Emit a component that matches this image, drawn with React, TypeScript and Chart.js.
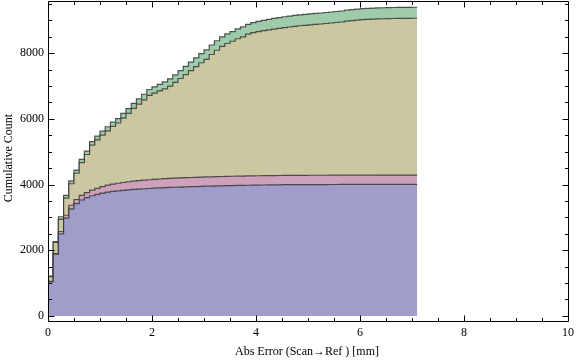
import React, { useEffect, useRef } from "react";
import { Chart, registerables } from "chart.js";

Chart.register(...registerables);

// Bin width of the histogram (Abs Error, mm)
const binWidth = 0.1;

// Cumulative counts per series, one value per bin (bins start at 0, 0.1, ..., 7.0)
const seriesBlue = [
  1040, 1880, 2500, 2980, 3260, 3420, 3530, 3600, 3660, 3700,
  3740, 3770, 3790, 3810, 3825, 3840, 3852, 3862, 3872, 3880,
  3890, 3898, 3905, 3912, 3918, 3924, 3930, 3935, 3940, 3945,
  3950, 3954, 3958, 3962, 3966, 3970, 3973, 3976, 3979, 3982,
  3985, 3987, 3989, 3991, 3993, 3995, 3996, 3997, 3998, 3999,
  4000, 4000, 4001, 4001, 4002, 4002, 4003, 4003, 4003, 4004,
  4004, 4004, 4004, 4005, 4005, 4005, 4005, 4005, 4005, 4005, 4005,
];
const seriesPink = [
  10, 20, 70, 85, 110, 125, 140, 155, 170, 185,
  200, 212, 222, 230, 238, 245, 252, 258, 263, 267,
  270, 272, 274, 276, 277, 278, 279, 280, 281, 282,
  283, 283, 283, 283, 283, 283, 283, 283, 283, 283,
  283, 283, 283, 283, 283, 283, 283, 283, 283, 283,
  283, 283, 283, 283, 283, 283, 283, 283, 283, 283,
  283, 283, 283, 283, 283, 283, 283, 283, 283, 283, 283,
];
const seriesOlive = [
  145, 340, 370, 520, 655, 800, 995, 1160, 1370, 1475,
  1565, 1653, 1758, 1835, 1962, 2085, 2216, 2330, 2445, 2568,
  2625, 2680, 2736, 2812, 2915, 3028, 3141, 3255, 3369, 3483,
  3582, 3723, 3849, 3965, 4046, 4112, 4184, 4241, 4318, 4360,
  4392, 4415, 4438, 4461, 4481, 4502, 4519, 4537, 4555, 4568,
  4582, 4597, 4606, 4621, 4635, 4650, 4664, 4689, 4704, 4718,
  4733, 4743, 4753, 4757, 4762, 4767, 4769, 4771, 4773, 4775, 4777,
];
const seriesGreen = [
  15, 25, 80, 85, 90, 95, 100, 105, 110, 115,
  120, 125, 130, 135, 140, 145, 150, 160, 170, 180,
  190, 200, 210, 220, 230, 240, 250, 260, 270, 280,
  285, 290, 290, 290, 295, 295, 300, 300, 300, 305,
  310, 315, 320, 325, 328, 330, 332, 333, 334, 335,
  335, 335, 335, 335, 335, 335, 335, 335, 335, 335,
  335, 335, 335, 335, 335, 335, 335, 335, 335, 335, 335,
];

const xTickValues = [0, 2, 4, 6, 8, 10];
const yTickValues = [0, 2000, 4000, 6000, 8000];
const xMinorStep = 0.5;
const yMinorStep = 500;

const xTitle = "Abs Error (Scan\u2192Ref ) [mm]";
const yTitle = "Cumulative Count";

const FONT = '"Liberation Serif", "Times New Roman", serif';

function toPoints(values: number[]) {
  const pts = values.map((v, i) => ({ x: +(i * binWidth).toFixed(2), y: v }));
  // closing edge of the last bin
  pts.push({ x: +(values.length * binWidth).toFixed(2), y: values[values.length - 1] });
  return pts;
}

const framePlugin = {
  id: "mmaFrame",
  afterDraw(chart: any) {
    const { ctx, chartArea: a, scales } = chart;
    const xs = scales.x;
    const ys = scales.y;
    const L = Math.round(a.left) + 0.5;
    const R = Math.round(a.right) + 0.5;
    const T = Math.round(a.top) + 0.5;
    const B = Math.round(a.bottom) + 0.5;
    ctx.save();
    ctx.strokeStyle = "#000";
    ctx.lineWidth = 1;
    ctx.beginPath();
    ctx.moveTo(L, T);
    ctx.lineTo(R, T);
    ctx.lineTo(R, B);
    ctx.lineTo(L, B);
    ctx.closePath();
    ctx.stroke();

    const major = 6;
    const minor = 3.5;
    ctx.beginPath();
    // x ticks (bottom & top)
    for (let v = xs.min; v <= xs.max + 1e-9; v += xMinorStep) {
      const isMajor = xTickValues.some((t) => Math.abs(t - v) < 1e-6);
      const len = isMajor ? major : minor;
      const px = Math.round(xs.getPixelForValue(v)) + 0.5;
      ctx.moveTo(px, B);
      ctx.lineTo(px, B - len);
      ctx.moveTo(px, T);
      ctx.lineTo(px, T + len);
    }
    // y ticks (left & right)
    for (let v = 0; v <= ys.max + 1e-9; v += yMinorStep) {
      const isMajor = yTickValues.some((t) => Math.abs(t - v) < 1e-6);
      const len = isMajor ? major : minor;
      const py = Math.round(ys.getPixelForValue(v)) + 0.5;
      ctx.moveTo(L, py);
      ctx.lineTo(L + len, py);
      ctx.moveTo(R, py);
      ctx.lineTo(R - len, py);
    }
    ctx.stroke();

    // axis titles
    ctx.fillStyle = "#000";
    ctx.font = `12px ${FONT}`;
    ctx.textAlign = "center";
    ctx.textBaseline = "middle";
    ctx.fillText(xTitle, 307, 352);
    ctx.translate(9, 158);
    ctx.rotate(-Math.PI / 2);
    ctx.fillText(yTitle, 0, 0);
    ctx.restore();
  },
};

export default function App() {
  const ref = useRef<HTMLCanvasElement | null>(null);

  useEffect(() => {
    document.body.style.margin = "0";
    const canvas = ref.current;
    if (!canvas) return;
    const edge = "rgba(45,45,45,0.8)";
    const mk = (label: string, values: number[], color: string, fill: any) => ({
      label,
      data: toPoints(values),
      backgroundColor: color,
      borderColor: edge,
      borderWidth: 1.2,
      stepped: "before" as const,
      pointRadius: 0,
      fill,
    });
    const chart = new Chart(canvas, {
      type: "line",
      data: {
        datasets: [
          mk("A", seriesBlue, "#a09dcb", "origin"),
          mk("B", seriesPink, "#cda0bb", "-1"),
          mk("C", seriesOlive, "#cbc7a1", "-1"),
          mk("D", seriesGreen, "#9ecbaa", "-1"),
        ],
      },
      options: {
        animation: false,
        responsive: false,
        devicePixelRatio: 1,
        layout: { padding: { top: 1, right: 8, left: 0, bottom: 0 } },
        plugins: { legend: { display: false }, tooltip: { enabled: false } },
        elements: { line: { tension: 0 } },
        scales: {
          x: {
            type: "linear",
            min: 0,
            max: 10,
            grid: { display: false, drawTicks: false },
            border: { display: false },
            afterBuildTicks: (s: any) => {
              s.ticks = xTickValues.map((v) => ({ value: v }));
            },
            afterFit: (s: any) => {
              s.height = 41;
              s.paddingLeft = 0;
              s.paddingRight = 0;
              s.paddingTop = 0;
              s.paddingBottom = 0;
            },
            ticks: {
              color: "#000",
              padding: 5,
              maxRotation: 0,
              font: { family: FONT, size: 12 },
              callback: (v: any) => String(v),
            },
          },
          y: {
            type: "linear",
            stacked: true,
            min: -155,
            max: 9590,
            grid: { display: false, drawTicks: false },
            border: { display: false },
            afterBuildTicks: (s: any) => {
              s.ticks = yTickValues.map((v) => ({ value: v }));
            },
            afterFit: (s: any) => {
              s.width = 48;
              s.paddingLeft = 0;
              s.paddingRight = 0;
              s.paddingTop = 0;
              s.paddingBottom = 0;
            },
            ticks: {
              color: "#000",
              padding: 4,
              font: { family: FONT, size: 12 },
              callback: (v: any) => String(v),
            },
          },
        },
      },
      plugins: [framePlugin],
    });
    return () => chart.destroy();
  }, []);

  return (
    <div style={{ width: 576, height: 362 }}>
      <canvas ref={ref} width={576} height={362} style={{ display: "block" }} />
    </div>
  );
}
